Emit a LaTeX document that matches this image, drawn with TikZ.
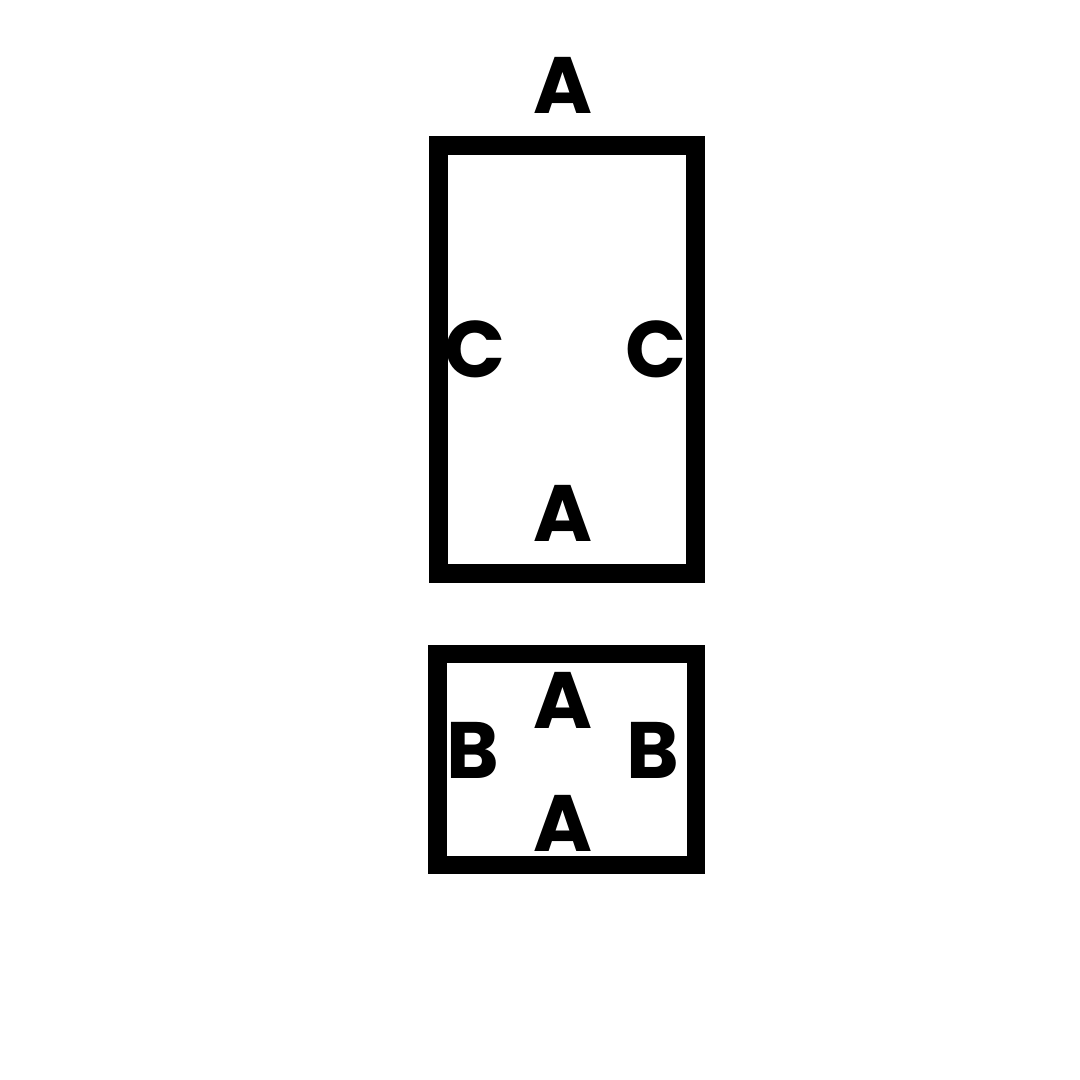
\documentclass[tikz,border=0pt]{standalone}
\usepackage{fontspec}
\setmainfont{Poppins}
\usepackage{tikz}

\tikzset{
	letter/.style={inner sep=0pt, font=\fontsize{80}{80}\selectfont\bfseries},
	frame/.style={draw, line width=18.5pt, inner sep=0pt}
}

\begin{document}
\begin{tikzpicture}[x=1pt, y=-1pt]
		\useasboundingbox (0,0) rectangle (1080,1080);

		\node[frame, minimum width=257pt, minimum height=428pt] (upper) at (567,359.5) {};
		\node[frame, minimum width=258.5pt, minimum height=211pt] (lower) at (566.75,759.5) {};

		\node[letter] (topA) at (563,85) {A};
		\node[letter] (leftC) at (475,349) {C};
		\node[letter] (rightC) at (655.5,349) {C};
		\node[letter] (innerA) at (563,513) {A};

		\node[letter] (upA) at (563,700) {A};
		\node[letter] (leftB) at (472.5,750) {B};
		\node[letter] (rightB) at (652.5,750) {B};
		\node[letter] (downA) at (563,823.5) {A};
\end{tikzpicture}
\end{document}
